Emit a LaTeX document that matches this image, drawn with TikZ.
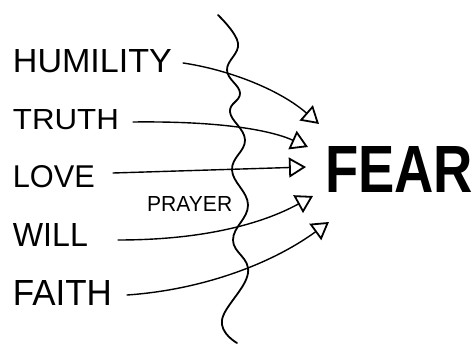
\documentclass[tikz,border=0pt]{standalone}
\usepackage{fontspec}
\usepackage{graphicx}
\setmainfont{Liberation Sans}
\usetikzlibrary{arrows.meta}
\tikzset{
  word/.style={inner sep=0pt, anchor=west},
  conn/.style={line width=1.4pt, line cap=round, -{Triangle[open,length=17pt,width=20pt,line width=1.8pt]}},
  wave/.style={line width=1.8pt, line cap=round}
}
\newcommand{\fitword}[3]{\resizebox{#1pt}{#2pt}{#3}}
\begin{document}
\begin{tikzpicture}[x=1pt,y=1pt]
\useasboundingbox (0,0) rectangle (474,345);
% words
\node[word] (h) at (12.7,283.5) {\fitword{159}{23}{HUMILITY}};
\node[word] (t) at (12.7,225) {\fitword{106}{20}{TRUTH}};
\node[word] (l) at (12.7,168) {\fitword{82}{22}{LOVE}};
\node[word] (w) at (12.7,109.5) {\fitword{75}{23}{WILL}};
\node[word] (f) at (12.7,52.5) {\fitword{99}{25}{FAITH}};
\node[word] (p) at (147,140.5) {\fitword{85}{15}{PRAYER}};
\node[word] (fear) at (325,175) {\fitword{148}{46}{\bfseries FEAR}};
% wavy line
\draw[wave] plot[smooth, tension=0.7] coordinates {
  (218,330) (238,302) (227,275) (240,252) (230,233) (245,205)
  (232,175) (248,140) (233,105) (248,72) (222,25) (237,2)};
% arrow tips
\coordinate (ht) at (319,221);
\coordinate (tt) at (308,198);
\coordinate (lt) at (306,178);
\coordinate (wt) at (313,149);
\coordinate (ft) at (329,123);
% connectors
\draw[conn] ([shift={(11,-1.5)}]h.east) .. controls (230,275) and (280,255) .. (ht);
\draw[conn] ([shift={(14,-2)}]t.east) .. controls (220,224) and (270,215) .. (tt);
\draw[conn] ([shift={(18,4)}]l.east) -- (lt);
\draw[conn] ([shift={(30,-4.5)}]w.east) .. controls (200,105) and (260,120) .. (wt);
\draw[conn] ([shift={(15,-2.5)}]f.east) .. controls (200,55) and (270,80) .. (ft);
\end{tikzpicture}
\end{document}
